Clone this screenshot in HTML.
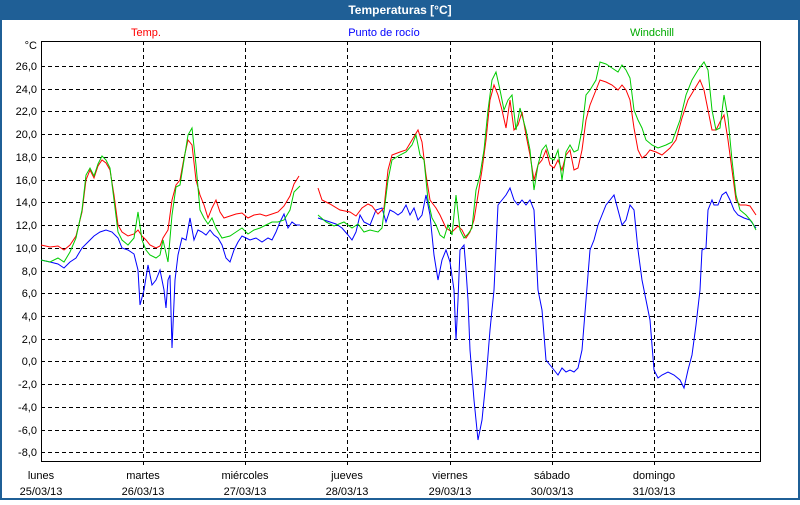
<!DOCTYPE html><html><head><style>
body{margin:0;width:800px;height:500px;overflow:hidden;background:#fff;font-family:"Liberation Sans","DejaVu Sans",sans-serif}
</style></head><body>
<svg width="800" height="500" xmlns="http://www.w3.org/2000/svg" font-family="Liberation Sans, sans-serif" font-size="11">
<rect x="0" y="0" width="800" height="500" fill="#fff"/>
<rect x="0" y="0" width="800" height="20" fill="#1f5f96"/>
<rect x="0" y="0" width="2" height="500" fill="#1f5f96"/>
<rect x="798" y="0" width="2" height="500" fill="#1f5f96"/>
<rect x="0" y="498" width="800" height="2" fill="#1f5f96"/>
<text x="400" y="14" fill="#fff" font-weight="bold" text-anchor="middle" font-size="12">Temperaturas [°C]</text>
<text x="146" y="36" fill="#f00" text-anchor="middle">Temp.</text>
<text x="384" y="36" fill="#00f" text-anchor="middle">Punto de rocío</text>
<text x="652" y="36" fill="#0a0" text-anchor="middle">Windchill</text>
<g stroke="#000" stroke-dasharray="4,3" stroke-width="1">
<line x1="41" y1="66.5" x2="760" y2="66.5"/><line x1="41" y1="89.5" x2="760" y2="89.5"/><line x1="41" y1="111.5" x2="760" y2="111.5"/><line x1="41" y1="134.5" x2="760" y2="134.5"/><line x1="41" y1="157.5" x2="760" y2="157.5"/><line x1="41" y1="180.5" x2="760" y2="180.5"/><line x1="41" y1="202.5" x2="760" y2="202.5"/><line x1="41" y1="225.5" x2="760" y2="225.5"/><line x1="41" y1="248.5" x2="760" y2="248.5"/><line x1="41" y1="271.5" x2="760" y2="271.5"/><line x1="41" y1="293.5" x2="760" y2="293.5"/><line x1="41" y1="316.5" x2="760" y2="316.5"/><line x1="41" y1="339.5" x2="760" y2="339.5"/><line x1="41" y1="361.5" x2="760" y2="361.5"/><line x1="41" y1="384.5" x2="760" y2="384.5"/><line x1="41" y1="407.5" x2="760" y2="407.5"/><line x1="41" y1="430.5" x2="760" y2="430.5"/><line x1="41" y1="452.5" x2="760" y2="452.5"/>
<line x1="143.5" y1="41" x2="143.5" y2="466"/><line x1="245.5" y1="41" x2="245.5" y2="466"/><line x1="347.5" y1="41" x2="347.5" y2="466"/><line x1="450.5" y1="41" x2="450.5" y2="466"/><line x1="552.5" y1="41" x2="552.5" y2="466"/><line x1="654.5" y1="41" x2="654.5" y2="466"/>
</g>
<rect x="41.5" y="41.5" width="719" height="420" fill="none" stroke="#000"/>
<g fill="#000" text-anchor="end">
<text x="37" y="49">°C</text>
<text x="37" y="70">26,0</text><text x="37" y="93">24,0</text><text x="37" y="115">22,0</text><text x="37" y="138">20,0</text><text x="37" y="161">18,0</text><text x="37" y="184">16,0</text><text x="37" y="206">14,0</text><text x="37" y="229">12,0</text><text x="37" y="252">10,0</text><text x="37" y="275">8,0</text><text x="37" y="297">6,0</text><text x="37" y="320">4,0</text><text x="37" y="343">2,0</text><text x="37" y="365">0,0</text><text x="37" y="388">-2,0</text><text x="37" y="411">-4,0</text><text x="37" y="434">-6,0</text><text x="37" y="456">-8,0</text>
</g>
<g fill="#000" text-anchor="middle">
<text x="41" y="479">lunes</text><text x="41" y="495">25/03/13</text>
<text x="143" y="479">martes</text><text x="143" y="495">26/03/13</text>
<text x="245" y="479">miércoles</text><text x="245" y="495">27/03/13</text>
<text x="347" y="479">jueves</text><text x="347" y="495">28/03/13</text>
<text x="450" y="479">viernes</text><text x="450" y="495">29/03/13</text>
<text x="552" y="479">sábado</text><text x="552" y="495">30/03/13</text>
<text x="654" y="479">domingo</text><text x="654" y="495">31/03/13</text>
</g>
<g fill="none" stroke-width="1">
<polyline stroke="#0000ff" points="41,260 50,262 58,264 64,268 70,262 76,258 82,248 88,242 94,236 100,232 106,230 112,232 118,238 122,248 128,250 134,254 138,270 140,305 144,290 148,265 152,285 156,280 160,270 164,290 166,308 168,280 170,275 172,348 175,280 178,255 182,238 186,240 190,218 194,240 198,230 202,232 206,235 210,230 214,235 218,238 222,245 226,258 230,262 234,250 238,242 242,236 246,238 250,240 256,238 262,242 268,238 272,240 276,232 280,222 284,214 288,228 292,222 296,225 300,225"/>
<polyline stroke="#0000ff" points="318,218 324,220 330,222 336,224 342,228 348,235 352,240 356,232 360,215 364,222 370,225 376,210 382,208 386,222 390,210 394,212 398,215 402,212 406,205 410,215 414,208 418,220 422,215 426,195 430,215 434,255 438,280 442,260 446,250 450,262 454,290 456,340 458,300 460,250 464,245 466,270 468,300 470,350 474,400 478,440 482,420 486,380 490,330 494,290 498,205 502,200 506,195 510,188 514,200 518,205 522,200 526,205 530,200 534,210 538,290 542,310 546,360 550,365 554,370 558,375 562,368 566,372 570,370 574,372 578,368 582,350 586,300 590,250 594,240 598,225 602,215 606,205 610,200 614,195 618,210 622,225 626,220 630,205 634,210 638,250 642,280 646,300 650,320 654,370 658,378 662,375 668,372 674,375 680,380 684,388 688,370 692,355 696,325 700,290 702,250 706,248 708,210 712,200 714,205 718,205 722,195 726,192 730,200 734,210 738,215 744,218 750,220 756,228"/>
<polyline stroke="#ff0000" points="41,245 50,247 58,246 64,250 70,245 76,236 82,212 86,180 90,170 94,178 98,166 102,160 106,163 110,170 114,195 118,225 122,232 128,236 134,234 138,230 142,236 146,240 150,245 156,248 160,246 163,238 168,230 172,200 176,185 180,180 184,158 188,140 192,145 196,180 200,195 204,205 208,218 212,208 216,200 220,212 224,218 230,216 236,214 242,213 248,218 254,215 260,214 266,216 272,214 278,212 284,206 290,196 294,184 299,176"/>
<polyline stroke="#ff0000" points="318,188 322,200 330,204 340,210 350,212 356,216 362,208 368,204 372,206 378,214 384,208 388,170 392,155 400,152 406,150 412,140 418,130 422,142 426,175 430,200 436,208 440,215 446,228 452,232 458,226 462,230 466,238 470,232 474,220 478,195 482,170 486,140 490,100 494,85 498,95 502,110 506,128 510,100 514,130 518,125 522,112 526,135 530,155 534,180 538,165 542,160 546,150 550,165 554,168 558,160 562,170 566,155 570,150 574,170 578,168 582,150 586,120 590,105 596,90 600,80 606,82 612,85 618,90 622,85 626,90 630,100 634,128 638,150 642,158 646,155 650,150 656,152 662,155 670,148 676,140 682,118 688,100 694,90 700,80 704,90 708,110 712,130 716,130 720,122 724,115 728,140 732,170 736,200 740,205 746,205 750,206 756,215"/>
<polyline stroke="#00cc00" points="41,260 50,262 58,258 64,262 70,252 76,238 82,210 86,175 90,168 94,176 98,164 102,156 106,160 110,168 114,200 118,232 122,240 128,245 134,238 138,212 142,240 146,250 150,255 156,258 160,255 163,240 168,262 172,215 176,187 180,185 184,160 188,135 192,128 196,165 200,210 204,218 208,224 212,218 216,228 222,238 230,236 236,232 242,228 248,234 254,230 260,228 266,225 272,222 278,222 284,220 290,210 294,192 300,186"/>
<polyline stroke="#00cc00" points="318,215 326,222 334,226 344,222 352,228 358,224 364,232 370,230 378,232 382,228 388,180 392,160 400,155 406,152 412,145 416,135 420,155 424,160 428,200 432,218 436,225 440,235 444,238 448,225 452,235 456,195 460,230 464,238 468,234 472,228 476,190 480,175 484,150 488,110 492,80 496,72 500,90 504,110 508,100 512,95 516,130 520,108 526,130 530,150 534,190 538,165 542,150 546,145 550,158 554,160 558,150 562,180 566,152 570,145 574,152 578,150 582,130 586,95 590,90 596,80 600,62 606,64 612,68 618,72 622,65 626,70 630,78 634,110 638,120 642,128 646,140 652,145 658,148 666,145 672,142 680,120 686,95 692,80 698,70 704,62 708,70 712,110 716,130 720,128 724,95 728,118 732,160 736,195 740,210 746,215 752,222 756,230"/>
</g>
</svg>
</body></html>
